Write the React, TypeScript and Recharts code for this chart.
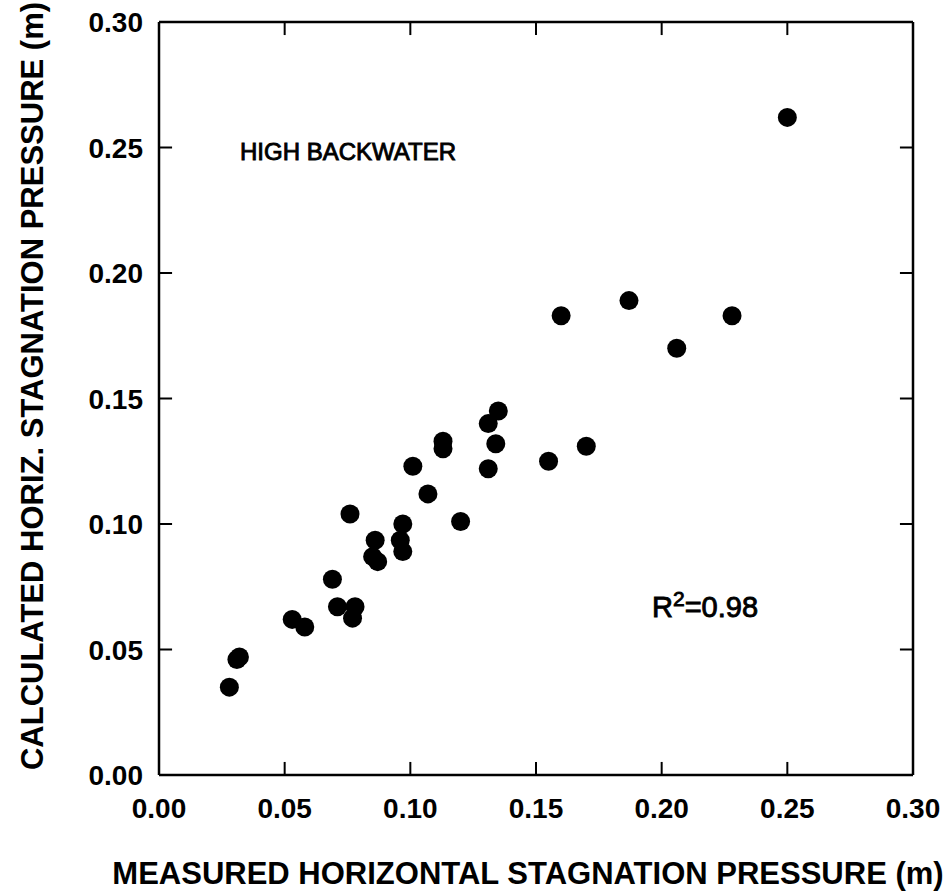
import React from "react"
import { ScatterChart, Scatter, XAxis, YAxis, ReferenceLine } from "recharts"

// measured (x) vs calculated (y) horizontal stagnation pressure, m
const measured = [
  0.028, 0.031, 0.032, 0.053, 0.058, 0.069, 0.071, 0.076, 0.078, 0.077, 0.085, 0.087,
  0.086, 0.097, 0.096, 0.097, 0.107, 0.101, 0.113, 0.113, 0.120, 0.131, 0.134, 0.131,
  0.135, 0.155, 0.170, 0.160, 0.187, 0.206, 0.228, 0.250,
]
const calculated = [
  0.035, 0.046, 0.047, 0.062, 0.059, 0.078, 0.067, 0.104, 0.067, 0.0625, 0.087, 0.085,
  0.0935, 0.100, 0.0935, 0.089, 0.112, 0.123, 0.133, 0.130, 0.101, 0.122, 0.132, 0.140,
  0.145, 0.125, 0.131, 0.183, 0.189, 0.170, 0.183, 0.262,
]
const ticks = [0, 0.05, 0.1, 0.15, 0.2, 0.25, 0.3]
const innerTicks = [0.05, 0.1, 0.15, 0.2, 0.25]

const data = measured.map((m, i) => ({ x: m, y: calculated[i] }))

const FONT = "'Liberation Sans', Arial, Helvetica, sans-serif"
const TICK = 0.0052 // inward tick length in data units (~13px)
const axisLine = { stroke: "#000", strokeWidth: 2.5 }

const BottomTick = ({ x, y, payload }: any) => (
  <text x={x} y={y + 43} textAnchor="middle" fontFamily={FONT} fontSize={28} fontWeight="bold" fill="#000">
    {payload.value.toFixed(2)}
  </text>
)

const LeftTick = ({ x, y, payload }: any) => (
  <text x={x - 16} y={y + 10} textAnchor="end" fontFamily={FONT} fontSize={28} fontWeight="bold" fill="#000">
    {payload.value.toFixed(2)}
  </text>
)

const Dot = (props: any) => <circle cx={props.cx} cy={props.cy} r={9.5} fill="#000" />

export default function App() {
  return (
    <div style={{ position: "absolute", left: 0, top: 0, background: "#fff" }}>
      <ScatterChart width={951} height={894} margin={{ top: 20, right: 36, bottom: 59, left: 0 }}>
        <XAxis
          type="number"
          dataKey="x"
          domain={[0, 0.3]}
          ticks={ticks}
          height={60}
          tickSize={0}
          tickMargin={0}
          tickLine={false}
          tick={<BottomTick />}
          axisLine={axisLine}
          interval={0}
        />
        <XAxis
          xAxisId="t"
          orientation="top"
          type="number"
          domain={[0, 0.3]}
          ticks={ticks}
          height={2}
          tickLine={false}
          tick={false}
          axisLine={axisLine}
        />
        <YAxis
          type="number"
          dataKey="y"
          domain={[0, 0.3]}
          ticks={ticks}
          width={159}
          tickSize={0}
          tickMargin={0}
          tickLine={false}
          tick={<LeftTick />}
          axisLine={axisLine}
          interval={0}
        />
        <YAxis
          yAxisId="r"
          orientation="right"
          type="number"
          domain={[0, 0.3]}
          ticks={ticks}
          width={2}
          tickLine={false}
          tick={false}
          axisLine={axisLine}
        />
        {innerTicks.map((t) => (
          <ReferenceLine key={"b" + t} segment={[{ x: t, y: 0 }, { x: t, y: TICK }]} stroke="#000" strokeWidth={2} />
        ))}
        {innerTicks.map((t) => (
          <ReferenceLine key={"t" + t} segment={[{ x: t, y: 0.3 }, { x: t, y: 0.3 - TICK }]} stroke="#000" strokeWidth={2} />
        ))}
        {innerTicks.map((t) => (
          <ReferenceLine key={"l" + t} segment={[{ x: 0, y: t }, { x: TICK, y: t }]} stroke="#000" strokeWidth={2} />
        ))}
        {innerTicks.map((t) => (
          <ReferenceLine key={"r" + t} segment={[{ x: 0.3, y: t }, { x: 0.3 - TICK, y: t }]} stroke="#000" strokeWidth={2} />
        ))}
        <Scatter data={data} shape={<Dot />} isAnimationActive={false} />
        <text x={240} y={160} fontFamily={FONT} fontSize={24} fill="#000" stroke="#000" strokeWidth={0.9}>
          HIGH BACKWATER
        </text>
        <text x={652} y={617} fontFamily={FONT} fontSize={29} fill="#000" stroke="#000" strokeWidth={0.9}>
          <tspan>R</tspan>
          <tspan dy={-11} fontSize={21}>2</tspan>
          <tspan dy={11}>=0.98</tspan>
        </text>
        <text x={528} y={884} textAnchor="middle" fontFamily={FONT} fontSize={31} fontWeight="bold" fill="#000">
          MEASURED HORIZONTAL STAGNATION PRESSURE (m)
        </text>
        <text
          x={43}
          y={386}
          textAnchor="middle"
          transform="rotate(-90, 43, 386)"
          fontFamily={FONT}
          fontSize={31}
          fontWeight="bold"
          fill="#000"
        >
          CALCULATED HORIZ. STAGNATION PRESSURE (m)
        </text>
      </ScatterChart>
    </div>
  )
}
